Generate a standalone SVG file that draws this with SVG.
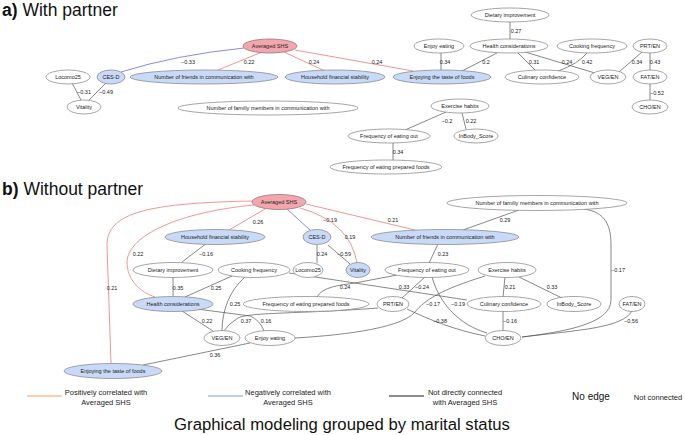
<svg xmlns="http://www.w3.org/2000/svg" width="685" height="435" viewBox="0 0 685 435">
<style>
.n{fill:#fff;stroke:#808080;stroke-width:0.7}
.nb{fill:#c9daf8;stroke:#808080;stroke-width:0.7}
.np{fill:#f4a6ae;stroke:#8a6a70;stroke-width:0.7}
.t{font-family:"Liberation Sans",Arial,sans-serif;font-size:5.5px;fill:#222;text-anchor:middle}
.w{font-family:"Liberation Sans",Arial,sans-serif;font-size:5.5px;fill:#222;text-anchor:middle}
.e{fill:none;stroke:#555;stroke-width:0.7}
.er{fill:none;stroke:#f07878;stroke-width:0.8}
.eb{fill:none;stroke:#6a6ae8;stroke-width:0.8}
.h{font-family:"Liberation Sans",Arial,sans-serif;font-size:17.5px;fill:#111}
.lg{font-family:"Liberation Sans",Arial,sans-serif;font-size:7.5px;fill:#222;text-anchor:middle}
</style>
<rect width="685" height="435" fill="#fff"/>
<text class="h" x="2" y="16"><tspan font-weight="bold">a)</tspan> With partner</text>
<text class="h" x="2" y="195"><tspan font-weight="bold">b)</tspan> Without partner</text>

<g id="connectors">
<!-- part a -->
<path class="eb" d="M244,48 Q175,55 121,72"/>
<path class="er" d="M262,52 L218,70"/>
<path class="er" d="M284,52 L325,71"/>
<path class="er" d="M295,50 L413,71"/>
<path class="e" d="M72,83 L81,100"/>
<path class="e" d="M106,83 L89,100"/>
<path class="e" d="M510,22 L510,39"/>
<path class="e" d="M441,53 L441,70"/>
<path class="e" d="M497,53 L462,71"/>
<path class="e" d="M517,52 L535,70"/>
<path class="e" d="M525,52 L595,73"/>
<path class="e" d="M587,53 Q578,64 558,71"/>
<path class="e" d="M642,52 L619,72"/>
<path class="e" d="M650,53 L650,70"/>
<path class="e" d="M650,84 L650,100"/>
<path class="e" d="M446,112 L405,130"/>
<path class="e" d="M462,113 L466,129"/>
<path class="e" d="M393,143 L393,160"/>
<text class="w" x="188" y="64">−0.33</text>
<text class="w" x="249" y="64">0.22</text>
<text class="w" x="314" y="64">0.24</text>
<text class="w" x="377" y="64">0.24</text>
<text class="w" x="84" y="94">−0.31</text>
<text class="w" x="106" y="94">−0.49</text>
<text class="w" x="516" y="33">0.27</text>
<text class="w" x="445" y="64">0.34</text>
<text class="w" x="486" y="64">0.2</text>
<text class="w" x="534" y="64">0.31</text>
<text class="w" x="567" y="64">0.24</text>
<text class="w" x="587" y="64">0.42</text>
<text class="w" x="637" y="64">0.34</text>
<text class="w" x="655" y="64">0.43</text>
<text class="w" x="657" y="95">−0.52</text>
<text class="w" x="447" y="123">−0.2</text>
<text class="w" x="471" y="123">0.22</text>
<text class="w" x="398" y="154">0.34</text>
<!-- part b -->
<path class="er" d="M265,209 L229,230"/>
<path class="eb" d="M287,209 L310,230"/>
<path class="er" d="M300,208 Q350,222 357,263"/>
<path class="er" d="M306,204 L415,230"/>
<path class="er" d="M254,205 C180,212 128,235 127,262 C127,280 140,292 155,297"/>
<path class="er" d="M253,201 C150,203 107,212 107,245 L111,363"/>
<path class="e" d="M207,243 L182,262"/>
<path class="e" d="M173,277 L173,296"/>
<path class="e" d="M232,276 L185,297"/>
<path class="e" d="M245,277 C230,290 222,310 222,331"/>
<path class="e" d="M289,273 L467,300"/>
<path class="e" d="M317,297 C322,287 340,285 355,283 L397,275"/>
<path class="e" d="M425,277 L402,298"/>
<path class="e" d="M432,277 C440,305 460,325 487,333"/>
<path class="e" d="M485,276 C440,290 425,300 415,312 C400,330 330,336 295,338"/>
<path class="e" d="M407,309 C430,320 455,330 485,336"/>
<path class="e" d="M378,308 C300,314 250,312 238,318 Q228,324 224,331"/>
<path class="e" d="M197,309 L250,316 Q260,320 264,331"/>
<path class="e" d="M182,311 L213,331"/>
<path class="e" d="M250,343 L143,365"/>
<path class="e" d="M317,245 L317,263"/>
<path class="e" d="M328,245 L350,264"/>
<path class="e" d="M438,244 L429,263"/>
<path class="e" d="M519,210 L463,230"/>
<path class="e" d="M584,209 C605,212 611,225 611,245 L611,300 C611,325 560,332 522,337"/>
<path class="e" d="M505,277 L503,297"/>
<path class="e" d="M519,277 L562,298"/>
<path class="e" d="M503,311 L503,331"/>
<path class="e" d="M632,311 C622,328 580,330 522,337"/>
<text class="w" x="258" y="224">0.26</text>
<text class="w" x="330" y="222">−0.19</text>
<text class="w" x="350" y="239">0.19</text>
<text class="w" x="393" y="222">0.21</text>
<text class="w" x="138" y="256">0.22</text>
<text class="w" x="112" y="290">0.21</text>
<text class="w" x="206" y="256">−0.16</text>
<text class="w" x="178" y="290">0.35</text>
<text class="w" x="216" y="290">0.25</text>
<text class="w" x="235" y="306">0.25</text>
<text class="w" x="404" y="289">0.33</text>
<text class="w" x="345" y="289">0.24</text>
<text class="w" x="422" y="289">−0.24</text>
<text class="w" x="458" y="306">−0.19</text>
<text class="w" x="433" y="306">−0.17</text>
<text class="w" x="440" y="323">−0.38</text>
<text class="w" x="246" y="323">0.37</text>
<text class="w" x="266" y="323">0.16</text>
<text class="w" x="207" y="323">0.22</text>
<text class="w" x="215" y="357">0.36</text>
<text class="w" x="322" y="256">0.24</text>
<text class="w" x="344" y="256">−0.59</text>
<text class="w" x="443" y="256">0.23</text>
<text class="w" x="505" y="222">0.29</text>
<text class="w" x="618" y="272">−0.17</text>
<text class="w" x="510" y="289">0.21</text>
<text class="w" x="552" y="289">0.33</text>
<text class="w" x="510" y="323">−0.16</text>
<text class="w" x="631" y="323">−0.56</text>
</g>

<!-- part a nodes -->
<g id="a-shs"><ellipse class="np" cx="270" cy="46" rx="27" ry="7"/><text class="t" x="270" y="48">Averaged SHS</text></g>
<g id="a-cesd"><ellipse class="nb" cx="111" cy="77" rx="14" ry="7"/><text class="t" x="111" y="79">CES-D</text></g>
<g id="a-locomo"><ellipse class="n" cx="68" cy="77" rx="22" ry="7"/><text class="t" x="68" y="79">Locomo25</text></g>
<g id="a-vitality"><ellipse class="n" cx="84" cy="107" rx="17" ry="7"/><text class="t" x="84" y="109">Vitality</text></g>
<g id="a-friends"><ellipse class="nb" cx="204" cy="77" rx="74" ry="7"/><text class="t" x="204" y="79">Number of friends in communication with</text></g>
<g id="a-household"><ellipse class="nb" cx="335" cy="77" rx="50" ry="7"/><text class="t" x="335" y="79">Household financial stability</text></g>
<g id="a-taste"><ellipse class="nb" cx="442" cy="77" rx="49" ry="7"/><text class="t" x="442" y="79">Enjoying the taste of foods</text></g>
<g id="a-family"><ellipse class="n" cx="268" cy="108" rx="90" ry="7"/><text class="t" x="268" y="110">Number of familiy members in communication with</text></g>
<g id="a-enjoy"><ellipse class="n" cx="439" cy="46" rx="25" ry="7"/><text class="t" x="439" y="48">Enjoy eating</text></g>
<g id="a-dietary"><ellipse class="n" cx="510" cy="15" rx="39" ry="7"/><text class="t" x="510" y="17">Dietary improvement</text></g>
<g id="a-health"><ellipse class="n" cx="509" cy="46" rx="39" ry="7"/><text class="t" x="509" y="48">Health considerations</text></g>
<g id="a-cooking"><ellipse class="n" cx="592" cy="46" rx="35" ry="7"/><text class="t" x="592" y="48">Cooking frequency</text></g>
<g id="a-prt"><ellipse class="n" cx="650" cy="46" rx="17" ry="7"/><text class="t" x="650" y="48">PRT/EN</text></g>
<g id="a-culinary"><ellipse class="n" cx="542" cy="77" rx="37" ry="7"/><text class="t" x="542" y="79">Culinary confidence</text></g>
<g id="a-veg"><ellipse class="n" cx="608" cy="77" rx="18" ry="7"/><text class="t" x="608" y="79">VEG/EN</text></g>
<g id="a-fat"><ellipse class="n" cx="650" cy="77" rx="17" ry="7"/><text class="t" x="650" y="79">FAT/EN</text></g>
<g id="a-cho"><ellipse class="n" cx="650" cy="107" rx="18" ry="7"/><text class="t" x="650" y="109">CHO/EN</text></g>
<g id="a-exercise"><ellipse class="n" cx="460" cy="106" rx="29" ry="7"/><text class="t" x="460" y="108">Exercise habits</text></g>
<g id="a-inbody"><ellipse class="n" cx="476" cy="136" rx="22" ry="7"/><text class="t" x="476" y="138">InBody_Score</text></g>
<g id="a-eatout"><ellipse class="n" cx="389" cy="136" rx="41" ry="7"/><text class="t" x="389" y="138">Frequency of eating out</text></g>
<g id="a-prepared"><ellipse class="n" cx="386" cy="167" rx="56" ry="7"/><text class="t" x="386" y="169">Frequency of eating prepared foods</text></g>

<!-- part b nodes -->
<g id="b-shs"><ellipse class="np" cx="279" cy="202" rx="27" ry="7.5"/><text class="t" x="279" y="204">Averaged SHS</text></g>
<g id="b-household"><ellipse class="nb" cx="215" cy="237" rx="50" ry="7.5"/><text class="t" x="215" y="239">Household financial stability</text></g>
<g id="b-cesd"><ellipse class="nb" cx="317" cy="237" rx="14" ry="7.5"/><text class="t" x="317" y="239">CES-D</text></g>
<g id="b-vitality"><ellipse class="nb" cx="358" cy="270" rx="12" ry="7.5"/><text class="t" x="358" y="272">Vitality</text></g>
<g id="b-friends"><ellipse class="nb" cx="445" cy="237" rx="74" ry="7.5"/><text class="t" x="445" y="239">Number of friends in communication with</text></g>
<g id="b-family"><ellipse class="n" cx="537" cy="203" rx="90" ry="7.5"/><text class="t" x="537" y="205">Number of familiy members in communication with</text></g>
<g id="b-dietary"><ellipse class="n" cx="173" cy="270" rx="40" ry="7.5"/><text class="t" x="173" y="272">Dietary improvement</text></g>
<g id="b-cooking"><ellipse class="n" cx="254" cy="270" rx="36" ry="7.5"/><text class="t" x="254" y="272">Cooking frequency</text></g>
<g id="b-locomo"><ellipse class="n" cx="308" cy="270" rx="15" ry="7.5"/><text class="t" x="308" y="272">Locomo25</text></g>
<g id="b-eatout"><ellipse class="n" cx="427" cy="270" rx="42" ry="7.5"/><text class="t" x="427" y="272">Frequency of eating out</text></g>
<g id="b-exercise"><ellipse class="n" cx="507" cy="270" rx="29" ry="7.5"/><text class="t" x="507" y="272">Exercise habits</text></g>
<g id="b-health"><ellipse class="nb" cx="173" cy="304" rx="40" ry="7.5"/><text class="t" x="173" y="306">Health considerations</text></g>
<g id="b-prepared"><ellipse class="n" cx="306" cy="304" rx="63" ry="7.5"/><text class="t" x="306" y="306">Frequency of eating prepared foods</text></g>
<g id="b-prt"><ellipse class="n" cx="393" cy="304" rx="16" ry="7.5"/><text class="t" x="393" y="306">PRT/EN</text></g>
<g id="b-culinary"><ellipse class="n" cx="504" cy="304" rx="37" ry="7.5"/><text class="t" x="504" y="306">Culinary confidence</text></g>
<g id="b-inbody"><ellipse class="n" cx="574" cy="304" rx="27" ry="7.5"/><text class="t" x="574" y="306">InBody_Score</text></g>
<g id="b-fat"><ellipse class="n" cx="632" cy="304" rx="13" ry="7.5"/><text class="t" x="632" y="306">FAT/EN</text></g>
<g id="b-veg"><ellipse class="n" cx="222" cy="338" rx="18" ry="7.5"/><text class="t" x="222" y="340">VEG/EN</text></g>
<g id="b-enjoy"><ellipse class="n" cx="270" cy="338" rx="25" ry="7.5"/><text class="t" x="270" y="340">Enjoy eating</text></g>
<g id="b-cho"><ellipse class="n" cx="503" cy="338" rx="18" ry="7.5"/><text class="t" x="503" y="340">CHO/EN</text></g>
<g id="b-taste"><ellipse class="nb" cx="113" cy="371" rx="49" ry="7.5"/><text class="t" x="113" y="373">Enjoying the taste of foods</text></g>

<!-- legend -->
<g id="legend">
<line x1="27" y1="396" x2="62" y2="396" stroke="#f79646" stroke-width="0.9"/>
<text class="lg" x="106" y="394.5">Positively correlated with</text>
<text class="lg" x="106" y="404.5">Averaged SHS</text>
<line x1="208" y1="396" x2="243" y2="396" stroke="#5b9bd5" stroke-width="0.9"/>
<text class="lg" x="288" y="394.5">Negatively correlated with</text>
<text class="lg" x="288" y="404.5">Averaged SHS</text>
<line x1="389" y1="396" x2="424" y2="396" stroke="#000" stroke-width="0.9"/>
<text class="lg" x="465" y="394.5">Not directly connected</text>
<text class="lg" x="465" y="404.5">with Averaged SHS</text>
<text x="591" y="400" font-family="Liberation Sans, Arial, sans-serif" font-size="10" fill="#111" text-anchor="middle">No edge</text>
<text class="lg" x="658" y="400">Not connected</text>
</g>
<text x="342" y="430" font-family="Liberation Sans, Arial, sans-serif" font-size="16.7" fill="#111" text-anchor="middle">Graphical modeling grouped by marital status</text>
</svg>
